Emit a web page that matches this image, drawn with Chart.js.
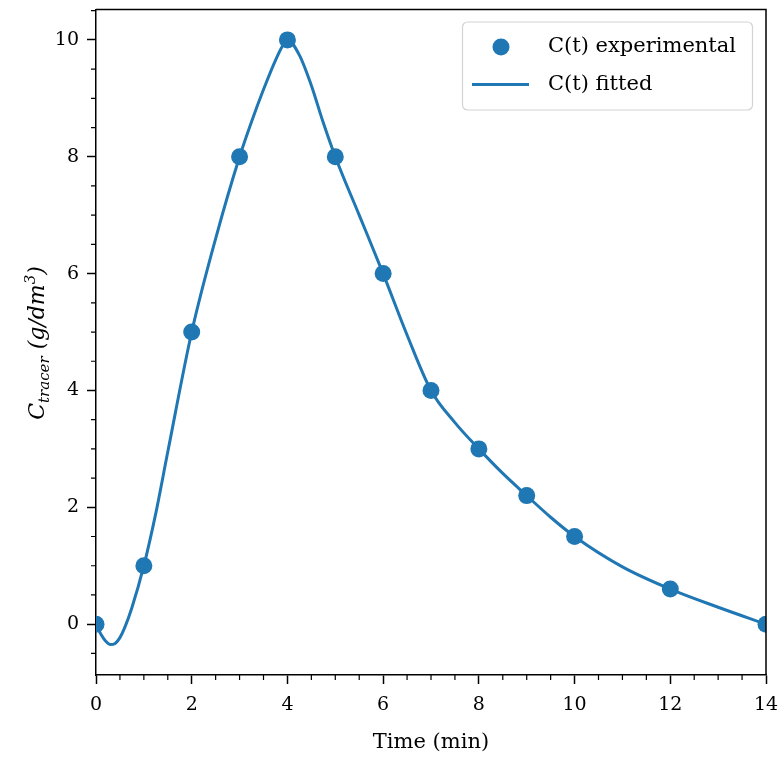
<!DOCTYPE html>
<html>
<head>
<meta charset="utf-8">
<script src="https://cdn.jsdelivr.net/npm/chart.js@4"></script>
<style>
    html, body { margin: 0; padding: 0; background: #fff; }
    #wrap { width: 781px; height: 758px; }
</style>
</head>
<body>
<div id="wrap"><canvas id="tracerChart" width="781" height="758"></canvas></div>
<script>
// --- Data ---
const timeExp = [0, 1, 2, 3, 4, 5, 6, 7, 8, 9, 10, 12, 14];
const concExp = [0, 1, 5, 8, 10, 8, 6, 4, 3, 2.2, 1.5, 0.6, 0];

// fitted curve
const timeFit = [0, 0.1, 0.2, 0.3, 0.4, 0.5, 0.6, 0.75, 1, 1.25, 1.5, 2, 2.5, 3, 3.25, 3.5, 3.75, 3.9, 4, 4.25, 4.5, 4.75, 5, 5.5, 6, 6.5, 7, 7.5, 8, 8.5, 9, 9.5, 10, 11, 12, 13, 14];
const concFit = [0, -0.17, -0.29, -0.35, -0.33, -0.23, -0.06, 0.28, 1, 1.9, 2.95, 5, 6.6, 8, 8.6, 9.15, 9.65, 9.9, 10, 9.74, 9.22, 8.58, 8, 7.0, 6, 4.95, 4, 3.45, 3, 2.58, 2.2, 1.83, 1.5, 0.98, 0.6, 0.29, 0];

const xTicks = [0, 2, 4, 6, 8, 10, 12, 14];
const yTicks = [0, 2, 4, 6, 8, 10];

const labelExp = 'C(t) experimental';
const labelFit = 'C(t) fitted';

// --- Styles ---
const blue = '#1f77b4';
const serif = '"DejaVu Serif", serif';

const pairs = (xs, ys) => xs.map((x, i) => ({ x: x, y: ys[i] }));

// no extra room for edge tick labels: the plot box is fixed
const noPad = s => { s.paddingLeft = 0; s.paddingRight = 0; s.paddingTop = 0; s.paddingBottom = 0; };

// frame, minor ticks, legend and the y label (mathtext style)
const decorPlugin = {
    id: 'decor',
    afterDraw(chart) {
        const ctx = chart.ctx;
        const a = chart.chartArea;
        const xs = chart.scales.x;
        const ys = chart.scales.y;

        ctx.save();
        ctx.strokeStyle = '#000';
        ctx.lineWidth = 1.5;

        // top and right spines
        ctx.beginPath();
        ctx.moveTo(a.left, a.top);
        ctx.lineTo(a.right, a.top);
        ctx.lineTo(a.right, a.bottom);
        ctx.stroke();

        // minor ticks every 0.5
        ctx.lineWidth = 1.2;
        ctx.beginPath();
        for (let v = xs.min; v <= xs.max + 1e-9; v += 0.5) {
            if (xTicks.includes(v)) continue;
            const px = xs.getPixelForValue(v);
            ctx.moveTo(px, a.bottom);
            ctx.lineTo(px, a.bottom + 5);
        }
        for (let v = -0.5; v <= ys.max + 1e-9; v += 0.5) {
            if (yTicks.includes(v)) continue;
            const py = ys.getPixelForValue(v);
            ctx.moveTo(a.left, py);
            ctx.lineTo(a.left - 5, py);
        }
        ctx.stroke();

        // legend box
        const bx = 462.5, by = 22, bw = 290, bh = 88;
        ctx.beginPath();
        ctx.roundRect(bx, by, bw, bh, 5);
        ctx.fillStyle = 'rgba(255,255,255,0.8)';
        ctx.fill();
        ctx.strokeStyle = '#d3d3d3';
        ctx.lineWidth = 1.2;
        ctx.stroke();

        const dsExp = chart.data.datasets[0];
        const dsFit = chart.data.datasets[1];

        ctx.fillStyle = blue;
        ctx.beginPath();
        ctx.arc(501, 47, 8.5, 0, Math.PI * 2);
        ctx.fill();

        ctx.strokeStyle = blue;
        ctx.lineWidth = 3;
        ctx.beginPath();
        ctx.moveTo(472, 84.5);
        ctx.lineTo(529, 84.5);
        ctx.stroke();

        ctx.fillStyle = '#000';
        ctx.font = '21px ' + serif;
        ctx.textBaseline = 'middle';
        ctx.textAlign = 'left';
        ctx.fillText(dsExp.label, 548, 47);
        ctx.fillText(dsFit.label, 548, 85);

        // y axis label: C_tracer (g/dm^3)
        const parts = [
            { t: 'C', size: 22, dy: 0 },
            { t: 'tracer', size: 15, dy: 5 },
            { t: ' (g/dm', size: 22, dy: 0 },
            { t: '3', size: 15, dy: -9 },
            { t: ')', size: 22, dy: 0 },
        ];
        let total = 0;
        parts.forEach(p => {
            ctx.font = 'italic ' + p.size + 'px ' + serif;
            p.w = ctx.measureText(p.t).width;
            total += p.w;
        });
        ctx.translate(37, 343);
        ctx.rotate(-Math.PI / 2);
        ctx.textBaseline = 'alphabetic';
        let cx = -total / 2;
        parts.forEach(p => {
            ctx.font = 'italic ' + p.size + 'px ' + serif;
            ctx.fillText(p.t, cx, 7 + p.dy);
            cx += p.w;
        });

        ctx.restore();
    }
};

const ctx = document.getElementById('tracerChart').getContext('2d');
new Chart(ctx, {
    type: 'line',
    data: {
        datasets: [
            {
                label: labelExp,
                data: pairs(timeExp, concExp),
                showLine: false,
                pointRadius: 8.5,
                pointBackgroundColor: blue,
                pointBorderWidth: 0,
                clip: 0,
                order: 0,
            },
            {
                label: labelFit,
                data: pairs(timeFit, concFit),
                borderColor: blue,
                borderWidth: 3,
                pointRadius: 0,
                cubicInterpolationMode: 'monotone',
                fill: false,
                clip: 0,
                order: 1,
            },
        ]
    },
    options: {
        responsive: false,
        animation: false,
        devicePixelRatio: 1,
        layout: { padding: { top: 9.5, right: 15, left: 0, bottom: 0 } },
        plugins: {
            legend: { display: false },
            tooltip: { enabled: false },
        },
        scales: {
            x: {
                type: 'linear',
                min: 0,
                max: 14,
                afterBuildTicks: s => { s.ticks = xTicks.map(v => ({ value: v })); },
                afterFit: s => { s.height = 83; noPad(s); },
                grid: { display: true, drawOnChartArea: false, drawTicks: true, tickLength: 9, tickWidth: 1.5, color: '#000' },
                border: { display: true, color: '#000', width: 1.5 },
                ticks: { color: '#000', font: { family: serif, size: 19 }, padding: 10, maxRotation: 0 },
                title: { display: true, text: 'Time (min)', color: '#000', font: { family: serif, size: 21 }, padding: { top: 0, bottom: 3 } },
            },
            y: {
                type: 'linear',
                min: -0.87,
                max: 10.52,
                afterBuildTicks: s => { s.ticks = yTicks.map(v => ({ value: v })); },
                afterFit: s => { s.width = 96; noPad(s); },
                grid: { display: true, drawOnChartArea: false, drawTicks: true, tickLength: 9, tickWidth: 1.5, color: '#000' },
                border: { display: true, color: '#000', width: 1.5 },
                ticks: { color: '#000', font: { family: serif, size: 19 }, padding: 8 },
            },
        },
    },
    plugins: [decorPlugin],
});
</script>
</body>
</html>
